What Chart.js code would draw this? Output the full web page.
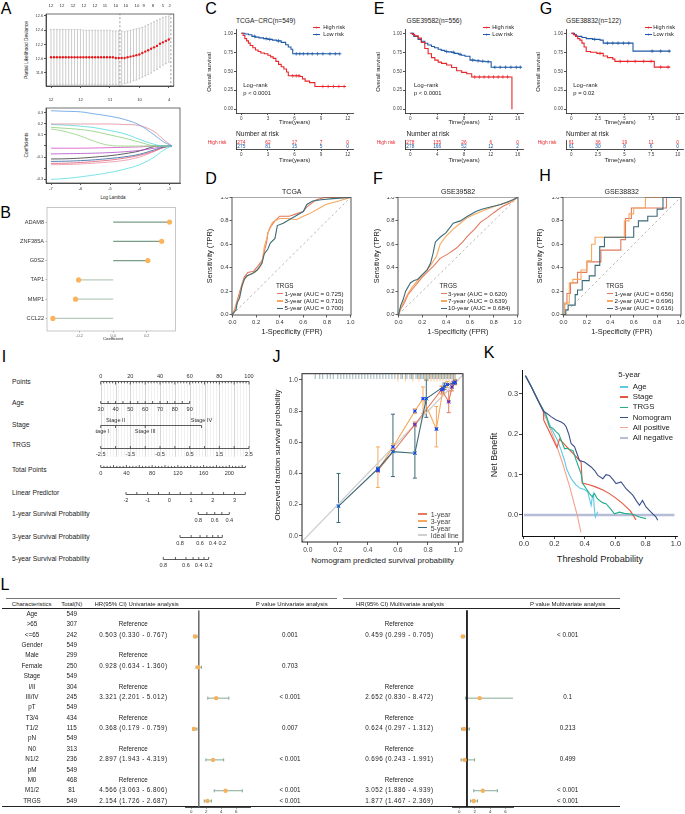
<!DOCTYPE html>
<html><head><meta charset="utf-8">
<script src="https://cdn.jsdelivr.net/npm/chart.js@4/dist/chart.umd.min.js"></script>
<style>
html,body{margin:0;padding:0;background:#fff}
#fig{position:relative;width:685px;height:814px;overflow:hidden;background:#fff;font-family:"Liberation Sans",Arial,Helvetica,sans-serif}
.t{position:absolute;white-space:nowrap;line-height:1;color:#222}
.ln{position:absolute}
canvas{position:absolute}
</style></head><body><div id="fig"></div><script>
// ---------------- data ----------------
// A: cross-validation curve
const cvLambda = [-7.0,-6.9,-6.8,-6.7,-6.6,-6.5,-6.4,-6.3,-6.2,-6.1,-6.0,-5.9,-5.8,-5.7,-5.6,-5.5,-5.4,-5.3,-5.2,-5.1,-5.0,-4.9,-4.8,-4.7,-4.6,-4.5,-4.4,-4.3,-4.2,-4.1,-4.0,-3.9,-3.8,-3.7,-3.6,-3.5,-3.4,-3.3,-3.2,-3.1,-3.0];
const cvDev = [12.02,12.02,12.02,12.02,12.02,12.02,12.02,12.02,12.02,12.02,12.02,12.02,12.02,12.02,12.02,12.02,12.02,12.02,12.02,12.02,12.02,12.02,12.01,12.01,12.01,12.01,12.02,12.03,12.04,12.05,12.06,12.08,12.10,12.12,12.14,12.16,12.18,12.21,12.23,12.25,12.27];
const cvHi = [12.41,12.41,12.41,12.41,12.41,12.41,12.41,12.41,12.41,12.41,12.41,12.40,12.40,12.40,12.40,12.40,12.40,12.40,12.40,12.40,12.40,12.39,12.39,12.39,12.39,12.38,12.39,12.40,12.41,12.42,12.43,12.44,12.46,12.48,12.50,12.52,12.54,12.56,12.58,12.59,12.60];
const cvLo = [11.64,11.64,11.64,11.64,11.64,11.64,11.64,11.64,11.64,11.64,11.64,11.64,11.64,11.64,11.64,11.64,11.64,11.64,11.64,11.64,11.64,11.64,11.64,11.64,11.64,11.65,11.66,11.67,11.69,11.70,11.72,11.74,11.76,11.78,11.80,11.83,11.85,11.88,11.91,11.93,11.95];
const cvTopLambda = [-7,-6.63,-6.25,-5.88,-5.51,-5.17,-4.8,-4.46,-4.08,-3.85,-3.54,-3.2,-2.97];
const cvTopN = [12,12,12,12,12,11,10,10,10,9,8,5,2];
const cvCut = [-4.66,-2.93];
// A: coefficient paths
const coefLambda = [-7,-6.5,-6,-5.5,-5,-4.5,-4,-3.5,-3.2,-2.9];
const coefPaths = [
  [0.32,0.315,0.31,0.29,0.27,0.24,0.19,0.10,0.04,0],
  [0.20,0.20,0.20,0.20,0.20,0.195,0.185,0.13,0.06,0],
  [0.195,0.19,0.18,0.165,0.14,0.11,0.06,0.015,0,0],
  [0.17,0.16,0.15,0.13,0.10,0.07,0.035,0,0,0],
  [0.155,0.13,0.09,0.04,0.005,0,0,0,0,0],
  [-0.02,-0.02,-0.02,-0.018,-0.015,-0.012,-0.008,0,0,0],
  [-0.072,-0.07,-0.068,-0.065,-0.06,-0.052,-0.04,-0.02,-0.005,0],
  [-0.118,-0.116,-0.11,-0.10,-0.088,-0.07,-0.045,-0.005,0,0],
  [-0.14,-0.138,-0.133,-0.125,-0.113,-0.098,-0.075,-0.035,-0.01,0],
  [-0.158,-0.156,-0.15,-0.14,-0.128,-0.11,-0.085,-0.045,-0.015,0],
  [-0.17,-0.168,-0.163,-0.155,-0.145,-0.13,-0.10,-0.05,-0.015,0],
  [-0.303,-0.295,-0.28,-0.262,-0.24,-0.21,-0.17,-0.10,-0.04,0]
];
const coefColors = ['#5b9be0','#e58a9c','#4fd9df','#86cf76','#8fd47f','#d54fc6','#b04cc8','#333333','#2a5f9e','#de5a6e','#ef8fa6','#58dde3'];
const coefTopLambda = [-7,-6,-5,-4,-3];
const coefTopN = [12,12,11,10,4];
// B
const genes = ['ADAM8','ZNF385A','G0S2','TAP1','MMP1','CCL22'];
const geneCoef = [0.335,0.288,0.206,-0.206,-0.224,-0.359];
// C: TCGA KM
const kmC_highT = [0,0.2,0.4,0.6,0.8,1.0,1.3,1.6,1.9,2.2,2.6,3.0,3.3,3.6,3.9,4.2,4.5,4.8,5.1,5.3,6.6,6.9,7.2,7.7,8.3,11.8];
const kmC_highS = [1,0.97,0.93,0.90,0.87,0.84,0.81,0.78,0.76,0.74,0.73,0.71,0.69,0.67,0.63,0.59,0.56,0.53,0.49,0.44,0.43,0.40,0.37,0.35,0.30,0.30];
const kmC_lowT = [0,0.4,0.8,1.2,1.6,2.0,2.5,3.0,3.5,4.0,4.5,5.0,5.3,5.6,5.8,11.1];
const kmC_lowS = [1,0.99,0.98,0.96,0.95,0.94,0.93,0.92,0.91,0.90,0.88,0.85,0.82,0.79,0.73,0.73];
const censC_highT = [5.8,6.2,6.5,9.2,9.8,10.4,11.0,11.6];
const censC_highS = [0.44,0.44,0.44,0.30,0.30,0.30,0.30,0.30];
const censC_lowT = [1.5,2.8,3.2,4.2,6.2,6.6,7.0,7.5,8.0,8.6,9.2,10.0,10.6,11.1];
const censC_lowS = [0.96,0.93,0.92,0.90,0.73,0.73,0.73,0.73,0.73,0.73,0.73,0.73,0.73,0.73];
const riskC_t = [0,3,6,9,12], riskC_high = [274,62,17,7,0], riskC_low = [275,81,15,5,0];
// E: GSE39582 KM
const kmE_highT = [0,0.3,0.65,1.15,1.65,2.15,2.65,3.15,3.65,4.15,4.65,5.4,6.15,6.9,7.65,8.4,9.15,15.15];
const kmE_highS = [1,0.985,0.966,0.936,0.88,0.80,0.73,0.68,0.647,0.62,0.604,0.583,0.55,0.506,0.485,0.468,0.425,0];
const kmE_lowT = [0,0.5,1.15,1.6,2.15,2.6,3.15,3.6,4.15,4.6,5.15,5.6,6.15,6.6,7.15,7.6,8.15,8.9,9.65,10.4,11.15,12.05,16.6];
const kmE_lowS = [1,0.96,0.92,0.895,0.868,0.845,0.826,0.81,0.79,0.775,0.76,0.755,0.749,0.735,0.723,0.71,0.698,0.647,0.638,0.632,0.626,0.553,0.553];
const censE_highT = [9.6,10.3,11.0,11.7,12.4,13.1,13.8,14.5];
const censE_highS = [0.425,0.425,0.425,0.425,0.425,0.425,0.425,0.425];
const censE_lowT = [5.4,6.4,7.4,9.3,10.1,10.8,11.6,12.6,13.4,14.2,15.0,15.8,16.4];
const censE_lowS = [0.76,0.749,0.723,0.647,0.638,0.632,0.626,0.553,0.553,0.553,0.553,0.553,0.553];
const riskE_t = [0,4,8,12,16], riskE_high = [278,135,26,6,0], riskE_low = [278,166,52,12,2];
// G: GSE38832 KM
const kmG_highT = [0,0.2,0.4,0.6,0.8,1.0,1.2,1.4,1.8,2.4,3.0,3.4,3.9,4.1,7.8,9.3];
const kmG_highS = [1,0.98,0.96,0.93,0.91,0.87,0.82,0.76,0.75,0.735,0.70,0.68,0.66,0.63,0.555,0.555];
const kmG_lowT = [0,0.3,0.5,1.0,1.4,2.0,2.7,3.0,5.8,9.3];
const kmG_lowS = [1,0.98,0.96,0.945,0.93,0.92,0.91,0.87,0.765,0.765];
const censG_highT = [2.7,4.6,5.3,6.0,6.8,7.5,8.4,9.1];
const censG_highS = [0.735,0.63,0.63,0.63,0.63,0.63,0.555,0.555];
const censG_lowT = [2.2,3.4,3.9,4.4,4.9,5.4,7.6,8.4,9.2];
const censG_lowS = [0.92,0.87,0.87,0.87,0.87,0.87,0.765,0.765,0.765];
const riskG_t = [0,2.5,5,7.5,10], riskG_high = [61,36,19,11,0], riskG_low = [61,30,8,6,0];
// D: TCGA ROC
const rocD1_f = [0,0.02,0.04,0.06,0.08,0.1,0.13,0.18,0.22,0.25,0.27,0.29,0.3,0.33,0.36,0.4,0.48,0.54,0.6,0.63,0.67,0.71,0.78,0.9,1];
const rocD1_t = [0,0.05,0.12,0.19,0.26,0.32,0.36,0.37,0.42,0.46,0.54,0.62,0.7,0.76,0.8,0.84,0.84,0.86,0.88,0.92,0.95,0.98,1,1,1];
const rocD3_f = [0,0.02,0.04,0.06,0.08,0.1,0.14,0.19,0.23,0.25,0.27,0.29,0.31,0.34,0.4,0.47,0.54,0.6,0.65,0.72,0.79,0.9,1];
const rocD3_t = [0,0.04,0.1,0.16,0.24,0.3,0.34,0.36,0.4,0.44,0.58,0.65,0.73,0.79,0.82,0.82,0.81,0.84,0.86,0.9,0.94,0.97,1];
const rocD5_f = [0,0.03,0.04,0.06,0.08,0.1,0.12,0.17,0.21,0.25,0.27,0.3,0.32,0.36,0.38,0.43,0.48,0.55,0.6,0.63,0.68,0.75,0.85,1];
const rocD5_t = [0,0.04,0.1,0.14,0.24,0.3,0.33,0.35,0.38,0.44,0.52,0.56,0.61,0.65,0.76,0.78,0.81,0.85,0.88,0.94,0.97,0.98,0.99,1];
// F: GSE39582 ROC
const rocF3_f = [0,0.02,0.05,0.08,0.12,0.16,0.2,0.25,0.3,0.35,0.42,0.49,0.54,0.58,0.64,0.69,0.75,0.8,0.87,0.93,0.97,1];
const rocF3_t = [0,0.05,0.1,0.17,0.22,0.27,0.32,0.37,0.42,0.48,0.52,0.57,0.62,0.67,0.73,0.79,0.83,0.87,0.92,0.95,0.98,1];
const rocF7_f = [0,0.02,0.05,0.08,0.12,0.17,0.22,0.27,0.32,0.35,0.4,0.46,0.52,0.58,0.65,0.72,0.77,0.85,0.92,0.96,1];
const rocF7_t = [0,0.06,0.12,0.18,0.24,0.3,0.36,0.42,0.5,0.6,0.67,0.73,0.78,0.83,0.86,0.89,0.91,0.94,0.96,0.97,1];
const rocF10_f = [0,0.01,0.02,0.04,0.06,0.1,0.13,0.16,0.2,0.24,0.27,0.29,0.31,0.35,0.4,0.46,0.52,0.58,0.65,0.7,0.78,0.86,0.91,0.96,1];
const rocF10_t = [0,0.04,0.08,0.13,0.2,0.27,0.29,0.3,0.34,0.38,0.44,0.52,0.62,0.66,0.7,0.78,0.8,0.84,0.88,0.9,0.92,0.94,0.96,0.98,1];
// H: GSE38832 ROC
const rocH1_f = [0,0.01,0.01,0.03,0.03,0.06,0.06,0.12,0.12,0.2,0.2,0.32,0.32,0.49,0.49,0.53,0.53,0.58,0.58,0.88,0.88,1];
const rocH1_t = [0,0,0.09,0.09,0.18,0.18,0.27,0.27,0.36,0.36,0.45,0.45,0.55,0.55,0.64,0.64,0.82,0.82,0.91,0.91,1,1];
const rocH2_f = [0,0.01,0.01,0.05,0.05,0.08,0.08,0.15,0.15,0.2,0.2,0.24,0.24,0.27,0.27,0.52,0.52,0.56,0.56,0.6,0.6,0.7,0.7,1];
const rocH2_t = [0,0,0.1,0.1,0.27,0.27,0.3,0.3,0.38,0.38,0.46,0.46,0.6,0.6,0.66,0.66,0.8,0.8,0.86,0.86,0.91,0.91,1,1];
const rocH3_f = [0,0.02,0.02,0.04,0.04,0.1,0.1,0.12,0.12,0.16,0.16,0.22,0.22,0.27,0.27,0.31,0.31,0.35,0.35,0.6,0.6,0.64,0.64,0.72,0.72,0.8,0.8,0.85,0.85,1];
const rocH3_t = [0,0,0.04,0.04,0.08,0.08,0.17,0.17,0.21,0.21,0.29,0.29,0.33,0.33,0.42,0.42,0.58,0.58,0.66,0.66,0.75,0.75,0.8,0.8,0.84,0.84,0.9,0.9,1,1];
// I: nomogram scales
const pointsLabels = [0,20,40,60,80,100];
const ageLabels = [30,40,50,60,70,80,90];
const stageNames = ['Stage I','Stage II','Stage III','Stage IV'];
const stagePts = [0,10,30,68];
const stageSide = ['below','above','below','above'];
const trgsLabels = [-2.5,-1.5,-0.5,0.5,1.5,2.5];
const totalLabels = [0,40,80,120,160,200];
const lpLabels = [-2,-1,0,1,2,3];
const survTicks1 = [0.8,0.7,0.6,0.5,0.4], survPts1 = [65.8,71.6,76.9,81.7,86.7];
const survTicks3 = [0.8,0.7,0.6,0.5,0.4,0.3,0.2], survPts3 = [53.5,61.0,67.0,71.6,75.5,79.1,82.0];
const survTicks5 = [0.8,0.7,0.6,0.5,0.4,0.3,0.2], survPts5 = [42.2,50.4,57.5,62.3,66.1,69.7,72.8];
// J: calibration
const cal1x = [0.467,0.713,0.89,0.938,0.96,0.98], cal1y = [0.42,0.714,0.937,0.86,0.955,0.985];
const cal1lo = [0.41,0.70,0.91,0.79,0.93,0.97], cal1hi = [0.43,0.73,0.96,0.93,0.98,1.0];
const cal3x = [0.467,0.567,0.713,0.767,0.856,0.9,0.93,0.97], cal3y = [0.42,0.57,0.8,0.88,0.685,0.94,0.97,0.98];
const cal3lo = [0.31,0.55,0.785,0.785,0.57,0.92,0.95,0.97], cal3hi = [0.57,0.59,0.815,0.955,0.83,0.96,0.99,0.99];
const cal5x = [0.205,0.467,0.567,0.713,0.789,0.91,0.98], cal5y = [0.19,0.43,0.54,0.53,0.88,0.96,0.985];
const cal5lo = [0.085,0.42,0.38,0.37,0.76,0.94,0.97], cal5hi = [0.40,0.44,0.78,0.72,1.0,0.98,1.0];
const rugDark = [0.05,0.08,0.1,0.13,0.15,0.17,0.2,0.22,0.24,0.26,0.28,0.3,0.32,0.34,0.36,0.38,0.4,0.42,0.44,0.46,0.48,0.5,0.52,0.54,0.56,0.58,0.6,0.62,0.63,0.65,0.66,0.68,0.69,0.7,0.72,0.73,0.74,0.75,0.76,0.77,0.78,0.79,0.8,0.81,0.82,0.83,0.84,0.85,0.86,0.87,0.88,0.89,0.9,0.91,0.92,0.93,0.94,0.95,0.96,0.97,0.98];
const rugOrange = [0.6,0.65,0.7,0.74,0.78,0.8,0.82,0.84,0.86,0.88,0.9,0.92,0.94,0.96,0.98];
// K: decision curves
const dcaPosT = [0.01,0.05,0.1,0.15,0.2,0.25,0.3,0.35,0.375];
const dcaPosNB = [0.345,0.316,0.278,0.235,0.187,0.133,0.071,0.0,-0.043];
const dcaNegT = [0,0.99], dcaNegNB = [0,0];
const dcaAgeT = [0.01,0.05,0.1,0.125,0.15,0.18,0.2,0.22,0.245,0.267,0.28,0.3,0.32,0.344,0.37,0.398,0.42,0.442,0.45,0.457,0.462,0.47,0.475,0.486];
const dcaAgeNB = [0.345,0.316,0.278,0.262,0.24,0.215,0.2,0.185,0.16,0.135,0.115,0.098,0.085,0.074,0.066,0.063,0.057,0.024,0.045,0.053,0.02,-0.005,0.0,0.008];
const dcaStageT = [0.01,0.05,0.1,0.128,0.13,0.217,0.234,0.376,0.383,0.43,0.475,0.52,0.562,0.6,0.65,0.7,0.737];
const dcaStageNB = [0.345,0.316,0.278,0.258,0.235,0.167,0.188,0.131,0.079,0.075,0.069,0.062,0.053,0.043,0.028,0.01,-0.012];
const dcaTrgsT = [0.01,0.05,0.1,0.147,0.168,0.19,0.212,0.23,0.245,0.267,0.28,0.3,0.322,0.344,0.376,0.387,0.41,0.431,0.45,0.464,0.48,0.497,0.52,0.54,0.57,0.595,0.628,0.66,0.716,0.76,0.803];
const dcaTrgsNB = [0.345,0.316,0.278,0.247,0.218,0.215,0.206,0.2,0.185,0.164,0.165,0.162,0.16,0.135,0.102,0.078,0.065,0.053,0.045,0.053,0.042,0.036,0.03,0.028,0.015,0.003,0.007,0.004,0.002,-0.005,-0.009];
const dcaNomoT = [0.01,0.05,0.1,0.13,0.15,0.18,0.212,0.245,0.265,0.278,0.295,0.31,0.333,0.365,0.398,0.42,0.442,0.465,0.486,0.519,0.54,0.562,0.585,0.606,0.639,0.672,0.716,0.74,0.76,0.78,0.803,0.836,0.869,0.88];
const dcaNomoNB = [0.345,0.316,0.278,0.256,0.252,0.243,0.235,0.23,0.225,0.218,0.2,0.177,0.169,0.135,0.131,0.125,0.119,0.11,0.098,0.09,0.1,0.098,0.088,0.078,0.082,0.065,0.049,0.035,0.024,0.036,0.02,0.007,-0.005,-0.013];
// L: forest table
const tabChar = ['Age','>65','<=65','Gender','Male','Female','Stage','I/II','III/IV','pT','T3/4','T1/2','pN','N0','N1/2','pM','M0','M1/2','TRGS'];
const tabTotal = [549,307,242,549,299,250,549,304,245,549,434,115,549,313,236,549,468,81,549];
const uniText = ['','Reference','0.503 (0.330 - 0.767)','','Reference','0.928 (0.634 - 1.360)','','Reference','3.321 (2.201 - 5.012)','','Reference','0.368 (0.179 - 0.759)','','Reference','2.897 (1.943 - 4.319)','','Reference','4.566 (3.063 - 6.806)','2.154 (1.726 - 2.687)'];
const uniP = ['','','0.001','','','0.703','','','< 0.001','','','0.007','','','< 0.001','','','< 0.001','< 0.001'];
const multiText = ['','Reference','0.459 (0.299 - 0.705)','','','','','Reference','2.652 (0.830 - 8.472)','','Reference','0.624 (0.297 - 1.312)','','Reference','0.696 (0.243 - 1.991)','','Reference','3.052 (1.886 - 4.939)','1.877 (1.467 - 2.369)'];
const multiP = ['','','< 0.001','','','','','','0.1','','','0.213','','','0.499','','','< 0.001','< 0.001'];
const uniRow = [2,5,8,11,14,17,18];
const uniHR = [0.503,0.928,3.321,0.368,2.897,4.566,2.154];
const uniLo = [0.330,0.634,2.201,0.179,1.943,3.063,1.726];
const uniHi = [0.767,1.360,5.012,0.759,4.319,6.806,2.687];
const multiRow = [2,8,11,14,17,18];
const multiHR = [0.459,2.652,0.624,0.696,3.052,1.877];
const multiLo = [0.299,0.830,0.297,0.243,1.886,1.467];
const multiHi = [0.705,8.472,1.312,1.991,4.939,2.369];

// ---------------- helpers ----------------
const FONT = '"Liberation Sans", Arial, Helvetica, sans-serif';
Chart.defaults.font.family = FONT;
Chart.defaults.color = '#333';
Chart.defaults.elements.point.radius = 0;
Chart.defaults.elements.point.hoverRadius = 0;
Chart.defaults.elements.line.tension = 0;
Chart.defaults.plugins.legend.display = false;
Chart.defaults.plugins.tooltip.enabled = false;

const fig = document.getElementById('fig');
const RED = '#e8262b', BLUE = '#1f5aa6';
const C1 = '#e27a5f', C2 = '#f6a95e', C3 = '#3d6a77';

function txt(s, x, y, o) {
  o = o || {};
  const d = document.createElement('div');
  d.className = 't';
  d.textContent = s;
  d.style.left = x + 'px';
  d.style.top = y + 'px';
  d.style.fontSize = (o.size || 6) + 'px';
  if (o.color) d.style.color = o.color;
  if (o.ls) d.style.letterSpacing = o.ls + 'px';
  const ax = o.align === 'left' ? '0' : o.align === 'right' ? '-100%' : '-50%';
  d.style.transform = 'translate(' + ax + ',-50%)' + (o.rot ? ' rotate(' + o.rot + 'deg)' : '');
  fig.appendChild(d);
}
function hseg(x1, x2, y, color, w) {
  const d = document.createElement('div');
  d.className = 'ln';
  d.style.left = x1 + 'px'; d.style.width = (x2 - x1) + 'px';
  d.style.top = (y - w / 2) + 'px'; d.style.height = w + 'px';
  d.style.background = color;
  fig.appendChild(d);
}
function xy(xs, ys) { return xs.map((x, i) => ({ x: x, y: ys[i] })); }
function lineDS(xs, ys, color, w, extra) {
  return Object.assign({ data: xy(xs, ys), showLine: true, borderColor: color, backgroundColor: color, borderWidth: w, pointRadius: 0, fill: false }, extra || {});
}
function ptsDS(xs, ys, color, r, style, extra) {
  return Object.assign({ data: xy(xs, ys), showLine: false, pointRadius: r, pointStyle: style || 'circle', backgroundColor: color, borderColor: color, borderWidth: 0.8 }, extra || {});
}
function ax(min, max, ticks, o) {
  o = o || {};
  return {
    type: 'linear', min: min, max: max, reverse: !!o.reverse, display: true,
    afterBuildTicks: s => { s.ticks = ticks.map(v => ({ value: v })); },
    grid: { display: o.tl !== 0, drawOnChartArea: false, drawTicks: true, tickLength: o.tl === undefined ? 3 : o.tl, color: o.tc || '#333', lineWidth: o.tw || 0.8 },
    border: { display: o.border !== false, color: o.bc || '#333', width: o.bw || 0.8 },
    ticks: { display: o.labels !== false, font: { size: o.fs || 6 }, color: o.color || '#333', padding: o.pad === undefined ? 1 : o.pad, autoSkip: false, maxRotation: 0, minRotation: 0, callback: o.fmt || (v => String(v)) }
  };
}
function mk(area, pad, cfg) {
  const L = Math.round(area.l - pad.l), T = Math.round(area.t - pad.t);
  const W = Math.round(area.r + pad.r) - L, H = Math.round(area.b + pad.b) - T;
  const cv = document.createElement('canvas');
  cv.width = W; cv.height = H;
  cv.style.left = L + 'px'; cv.style.top = T + 'px';
  cv.style.width = W + 'px'; cv.style.height = H + 'px';
  fig.appendChild(cv);
  const o = cfg.options = cfg.options || {};
  o.responsive = false; o.maintainAspectRatio = false; o.animation = false; o.devicePixelRatio = 1; o.events = [];
  const sx = o.scales && o.scales.x, sy = o.scales && o.scales.y;
  const xOn = !!sx && sx.display !== false, yOn = !!sy && sy.display !== false;
  const pl = Math.round(area.l) - L, pt = Math.round(area.t) - T;
  const pr = L + W - Math.round(area.r), pb = T + H - Math.round(area.b);
  o.layout = { padding: { left: yOn ? 0 : pl, top: pt, right: pr, bottom: xOn ? 0 : pb } };
  if (xOn) sx.afterFit = s => { s.height = pb; s.paddingLeft = 0; s.paddingRight = 0; };
  if (yOn) sy.afterFit = s => { s.width = pl; s.paddingTop = 0; s.paddingBottom = 0; };
  return new Chart(cv, cfg);
}

// ---------------- plugins ----------------
const framePlugin = {
  id: 'frame',
  afterDraw(ch, a, o) {
    const A = ch.chartArea, c = ch.ctx;
    c.save(); c.strokeStyle = o.color || '#333'; c.lineWidth = o.width || 1;
    c.strokeRect(A.left, A.top, A.right - A.left, A.bottom - A.top);
    c.restore();
  }
};
const errPlugin = {
  id: 'err',
  beforeDatasetsDraw(ch) {
    const c = ch.ctx, A = ch.chartArea;
    c.save(); c.beginPath(); c.rect(A.left, A.top, A.right - A.left, A.bottom - A.top); c.clip();
    ch.data.datasets.forEach((ds, i) => {
      if (!ds.errLo) return;
      const m = ch.getDatasetMeta(i), X = ch.scales[m.xAxisID], Y = ch.scales[m.yAxisID];
      c.strokeStyle = ds.errColor; c.lineWidth = ds.errWidth || 0.8;
      const cap = ds.errCap || 1.5;
      ds.data.forEach((d, k) => {
        const lo = ds.errLo[k], hi = ds.errHi[k];
        c.beginPath();
        if (ds.errDir === 'h') {
          const y = Y.getPixelForValue(d.y), x1 = X.getPixelForValue(lo), x2 = X.getPixelForValue(hi);
          c.moveTo(x1, y); c.lineTo(x2, y);
          c.moveTo(x1, y - cap); c.lineTo(x1, y + cap); c.moveTo(x2, y - cap); c.lineTo(x2, y + cap);
        } else {
          const x = X.getPixelForValue(d.x), y1 = Y.getPixelForValue(lo), y2 = Y.getPixelForValue(hi);
          c.moveTo(x, y1); c.lineTo(x, y2);
          c.moveTo(x - cap, y1); c.lineTo(x + cap, y1); c.moveTo(x - cap, y2); c.lineTo(x + cap, y2);
        }
        c.stroke();
      });
    });
    c.restore();
  }
};
const topLabPlugin = {
  id: 'toplab',
  afterDraw(ch, a, o) {
    const c = ch.ctx, X = ch.scales.x, y = ch.chartArea.top - o.dy;
    c.save(); c.fillStyle = '#333'; c.font = o.size + 'px ' + FONT; c.textAlign = 'center'; c.textBaseline = 'middle';
    o.vals.forEach((v, i) => c.fillText(String(o.labels[i]), X.getPixelForValue(v), y));
    c.restore();
  }
};
const riskPlugin = {
  id: 'risk',
  afterDraw(ch, a, o) {
    const c = ch.ctx, X = ch.scales.x, Y = ch.scales.y;
    c.save(); c.font = o.size + 'px ' + FONT; c.textAlign = 'center'; c.textBaseline = 'middle';
    o.rows.forEach((row, r) => {
      c.fillStyle = o.colors[r];
      row.forEach((n, i) => c.fillText(String(n), X.getPixelForValue(o.times[i]), Y.getPixelForValue(r)));
    });
    c.restore();
  }
};
const nomoPlugin = {
  id: 'nomo',
  afterDraw(ch, a, o) {
    const c = ch.ctx, X = ch.scales.x, Y = ch.scales.y;
    c.save();
    // vertical reference grid
    const gy1 = Y.getPixelForValue(0), gy2 = Y.getPixelForValue(o.gridTo);
    for (let p = 0; p <= 100; p += 2) {
      c.strokeStyle = p % 10 === 0 ? '#c4c4c4' : '#ebebeb'; c.lineWidth = 0.7;
      const x = Math.round(X.getPixelForValue(p)) + 0.5;
      c.beginPath(); c.moveTo(x, gy1); c.lineTo(x, gy2); c.stroke();
    }
    c.strokeStyle = '#333'; c.fillStyle = '#333'; c.lineWidth = 0.8;
    c.font = o.size + 'px ' + FONT; c.textAlign = 'center'; c.textBaseline = 'middle';
    o.rows.forEach(r => {
      const y = Math.round(Y.getPixelForValue(r.row)) + 0.5;
      const ps = r.ticks.map(t => t.p);
      c.beginPath(); c.moveTo(X.getPixelForValue(Math.min.apply(null, ps)), y); c.lineTo(X.getPixelForValue(Math.max.apply(null, ps)), y); c.stroke();
      r.ticks.forEach(t => {
        const x = X.getPixelForValue(t.p);
        c.beginPath(); c.moveTo(x, y); c.lineTo(x, y + r.dir * t.len); c.stroke();
      });
      r.labels.forEach(l => {
        c.fillText(l.t, X.getPixelForValue(l.p), y + (l.side === 'above' ? -5 : 6));
      });
    });
    c.restore();
  }
};

// ---------------- panel letters ----------------
[['A',6,9],['B',5.5,212.5],['C',211,9],['E',379,9],['G',546,9],['D',211,179],['F',378,179],['H',545,176],['I',4,357],['J',276.5,357],['K',489,353],['L',5,585]]
  .forEach(p => txt(p[0], p[1], p[2], { size: 16, color: '#000' }));

// ---------------- A ----------------
mk({ l: 46, t: 14, r: 174, b: 86 }, { l: 14, t: 10, r: 1, b: 3 }, {
  type: 'scatter',
  data: { datasets: [
    ptsDS(cvLambda, cvDev, '#e8191c', 1.2, 'circle', { borderWidth: 0, errLo: cvLo, errHi: cvHi, errColor: '#a9a9a9', errWidth: 0.6, errCap: 1 }),
    lineDS([cvCut[0], cvCut[0]], [11.6, 12.65], '#555', 0.6, { borderDash: [2, 2] }),
    lineDS([cvCut[1], cvCut[1]], [11.6, 12.65], '#555', 0.6, { borderDash: [2, 2] })
  ] },
  options: {
    scales: {
      x: ax(-7.17, -2.83, [-7, -6, -5, -4, -3], { labels: false, tl: 2 }),
      y: ax(11.617, 12.628, [11.8, 12.0, 12.2, 12.4, 12.6], { fs: 3.8, tl: 2, fmt: v => v.toFixed(1) })
    },
    plugins: { frame: { color: '#333', width: 0.7 }, toplab: { vals: cvTopLambda, labels: cvTopN, dy: 8, size: 4.3 } }
  },
  plugins: [errPlugin, framePlugin, topLabPlugin]
});
mk({ l: 46, t: 108, r: 180, b: 183 }, { l: 14, t: 10, r: 1, b: 7 }, {
  type: 'scatter',
  data: { datasets: coefPaths.map((p, i) => lineDS(coefLambda, p, coefColors[i], 0.8, { tension: 0.4 })) },
  options: {
    scales: {
      x: ax(-7.17, -2.63, [-7, -6, -5, -4, -3], { fs: 4, tl: 2 }),
      y: ax(-0.336, 0.345, [-0.3, -0.2, -0.1, 0, 0.1, 0.2, 0.3], { fs: 3.8, tl: 2, fmt: v => (Math.abs(v) < 1e-9 || Math.abs(v + 0.2) < 1e-9) ? '' : v.toFixed(1) })
    },
    plugins: { frame: { color: '#333', width: 0.7 }, toplab: { vals: coefTopLambda, labels: coefTopN, dy: 8, size: 4.3 } }
  },
  plugins: [framePlugin, topLabPlugin]
});
txt('Partial Likelihood Deviance', 27, 50, { size: 4.8, rot: -90 });
txt('Coefficients', 27, 145, { size: 4.8, rot: -90 });
txt('Log Lambda', 113, 198, { size: 4.5 });

// ---------------- B ----------------
mk({ l: 47, t: 205, r: 176, b: 331 }, { l: 40, t: 0, r: 2, b: 6 }, {
  type: 'scatter',
  data: { datasets: [ptsDS(geneCoef, [1, 2, 3, 4, 5, 6], '#fbb45c', 2.6, 'circle', { borderWidth: 0 })]
    .concat(genes.map((g, i) => lineDS([0, geneCoef[i]], [i + 1, i + 1], geneCoef[i] > 0 ? '#7a9e87' : '#b7ccbe', 1.2))) },
  options: {
    scales: {
      x: ax(-0.394, 0.37, [-0.2, 0, 0.2], { fs: 3.8, tl: 1.5, color: '#666', tc: '#999', border: false, fmt: v => v.toFixed(1) }),
      y: ax(0.25, 6.65, [1, 2, 3, 4, 5, 6], { reverse: true, fs: 5.6, tl: 1.5, tc: '#999', border: false, pad: 1.5, fmt: v => genes[v - 1] })
    },
    plugins: { frame: { color: '#b0b0b0', width: 0.7 } }
  },
  plugins: [framePlugin]
});
txt('Coefficient', 113, 338.7, { size: 4.3 });

// ---------------- C / E / G ----------------
function kmPanel(p) {
  mk(p.area, { l: 20, t: 0, r: 4, b: 10 }, {
    type: 'scatter',
    data: { datasets: [
      ptsDS(p.chT, p.chS, RED, 1.8, 'cross', { borderWidth: 0.7 }),
      ptsDS(p.clT, p.clS, BLUE, 1.8, 'cross', { borderWidth: 0.7 }),
      lineDS(p.hT, p.hS, RED, 1.1, { stepped: 'before' }),
      lineDS(p.lT, p.lS, BLUE, 1.1, { stepped: 'before' })
    ] },
    options: { scales: {
      x: ax(p.xmin, p.xmax, p.xt, { fs: 4.6, tl: 2, color: '#444', bc: '#222', tc: '#222' }),
      y: ax(-0.05, 1.05, [0, 0.25, 0.5, 0.75, 1], { fs: 4.6, tl: 2, color: '#444', bc: '#222', tc: '#222', fmt: v => v.toFixed(2) })
    } }
  });
  mk({ l: p.area.l, t: 139.5, r: p.area.r, b: 149.4 }, { l: 34, t: 0, r: 4, b: 8 }, {
    type: 'scatter',
    data: { datasets: [] },
    options: {
      scales: {
        x: ax(p.xmin, p.xmax, p.xt, { fs: 4.6, tl: 2, color: '#444', bc: '#222', tc: '#222' }),
        y: { type: 'category', labels: ['High risk', 'Low risk'], offset: true,
             grid: { display: false }, border: { display: true, color: '#222', width: 0.8 },
             ticks: { font: { size: 4.8 }, padding: 1.5, color: c => c.index === 0 ? RED : BLUE } }
      },
      plugins: { risk: { times: p.rt, rows: [p.rh, p.rl], colors: [RED, BLUE], size: 4.8 } }
    },
    plugins: [riskPlugin]
  });
}
kmPanel({ area: { l: 235.6, t: 27.1, r: 353.4, b: 112.9 }, xmin: -0.6, xmax: 12.6, xt: [0, 3, 6, 9, 12],
  hT: kmC_highT, hS: kmC_highS, lT: kmC_lowT, lS: kmC_lowS, chT: censC_highT, chS: censC_highS, clT: censC_lowT, clS: censC_lowS,
  rt: riskC_t, rh: riskC_high, rl: riskC_low });
kmPanel({ area: { l: 405.4, t: 27.1, r: 522.6, b: 112.9 }, xmin: -0.8, xmax: 16.8, xt: [0, 4, 8, 12, 16],
  hT: kmE_highT, hS: kmE_highS, lT: kmE_lowT, lS: kmE_lowS, chT: censE_highT, chS: censE_highS, clT: censE_lowT, clS: censE_lowS,
  rt: riskE_t, rh: riskE_high, rl: riskE_low });
kmPanel({ area: { l: 566.4, t: 27.1, r: 682.6, b: 112.9 }, xmin: -0.5, xmax: 10.5, xt: [0, 2.5, 5, 7.5, 10],
  hT: kmG_highT, hS: kmG_highS, lT: kmG_lowT, lS: kmG_lowS, chT: censG_highT, chS: censG_highS, clT: censG_lowT, clS: censG_lowS,
  rt: riskG_t, rh: riskG_high, rl: riskG_low });
function kmText(title, tl, ycx, xc, lgLine, lgText, lrLeft, pv) {
  txt(title, tl, 21, { size: 6.6, align: 'left' });
  hseg(lgLine, lgLine + 7, 27.7, RED, 1); txt('+', lgLine + 3.5, 27.5, { size: 5.5, color: RED });
  hseg(lgLine, lgLine + 7, 34.7, BLUE, 1); txt('+', lgLine + 3.5, 34.5, { size: 5.5, color: BLUE });
  txt('High risk', lgText, 27.7, { size: 5.6, align: 'left' });
  txt('Low risk', lgText, 34.7, { size: 5.6, align: 'left' });
  txt('Log\u2212rank', lrLeft, 86, { size: 5.8, align: 'left' });
  txt(pv, lrLeft, 94, { size: 5.8, align: 'left' });
  txt('Overall survival', ycx, 72, { size: 5.8, rot: -90 });
  txt('Time(years)', xc, 123, { size: 5.9 });
  txt('Number at risk', tl, 134, { size: 6.6, align: 'left' });
  txt('Time(years)', xc, 161, { size: 5.9 });
}
kmText('TCGA\u2212CRC(n=549)', 236, 210, 294.7, 313.3, 323.3, 243.3, 'p < 0.0001');
kmText('GSE39582(n=556)', 406.5, 379.3, 464, 483.3, 492.3, 414, 'p < 0.0001');
kmText('GSE38832(n=122)', 566, 539, 620, 645, 653.3, 573.3, 'p = 0.02');

// ---------------- D / F / H ----------------
function rocPanel(area, curves) {
  mk(area, { l: 16, t: 0, r: 6, b: 12 }, {
    type: 'scatter',
    data: { datasets: curves.map(cv => lineDS(cv[0], cv[1], cv[2], 1.1)).reverse()
      .concat([lineDS([0, 1], [0, 1], '#9a9a9a', 0.7, { borderDash: [2.5, 2.5] })]) },
    options: {
      scales: {
        x: ax(-0.004, 1.004, [0, 0.2, 0.4, 0.6, 0.8, 1], { fs: 5.8, tl: 2.5, border: false, color: '#333', fmt: v => v.toFixed(1) }),
        y: ax(-0.004, 1.004, [0, 0.2, 0.4, 0.6, 0.8, 1], { fs: 5.8, tl: 2.5, border: false, color: '#333', fmt: v => v.toFixed(1) })
      },
      plugins: { frame: { color: '#555', width: 1 } }
    },
    plugins: [framePlugin]
  });
}
rocPanel({ l: 232.3, t: 197.2, r: 351.3, b: 314.5 }, [[rocD1_f, rocD1_t, C1], [rocD3_f, rocD3_t, C2], [rocD5_f, rocD5_t, C3]]);
rocPanel({ l: 398.3, t: 197.2, r: 517.7, b: 314.5 }, [[rocF3_f, rocF3_t, C1], [rocF7_f, rocF7_t, C2], [rocF10_f, rocF10_t, C3]]);
rocPanel({ l: 563, t: 197.2, r: 680.5, b: 314.5 }, [[rocH1_f, rocH1_t, C1], [rocH2_f, rocH2_t, C2], [rocH3_f, rocH3_t, C3]]);
function rocText(title, cx, ycx, lgl, items) {
  txt(title, cx, 190.7, { size: 7 });
  txt('Sensitivity (TPR)', ycx, 256, { size: 7.3, rot: -90 });
  txt('1-Specificity (FPR)', cx, 331.7, { size: 7.3 });
  txt('TRGS', lgl, 286, { size: 6.3, align: 'left' });
  [C1, C2, C3].forEach((col, i) => {
    const y = 293.7 + i * 7.3;
    hseg(lgl + 1, lgl + 7, y, col, 1.1);
    txt(items[i], lgl + 8.5, y, { size: 6.2, align: 'left' });
  });
}
rocText('TCGA', 291.8, 210, 276, ['1-year (AUC = 0.725)', '3-year (AUC = 0.710)', '5-year (AUC = 0.700)']);
rocText('GSE39582', 458, 376.7, 439.5, ['3-year (AUC = 0.620)', '7-year (AUC = 0.639)', '10-year (AUC = 0.684)']);
rocText('GSE38832', 621.7, 540, 606, ['1-year (AUC = 0.656)', '2-year (AUC = 0.696)', '3-year (AUC = 0.616)']);

// ---------------- I: nomogram ----------------
function rng(a, b, st) { const r = []; for (let v = a; v <= b + 1e-9; v += st) r.push(+v.toFixed(4)); return r; }
const nomoRows = [
  { row: 0, dir: 1, ticks: rng(0, 100, 2).map(v => ({ p: v, len: v % 10 === 0 ? 3 : 1.8 })), labels: pointsLabels.map(v => ({ p: v, t: String(v), side: 'above' })) },
  { row: 1.01, dir: -1, ticks: rng(30, 90, 5).map(v => ({ p: v - 30, len: 2.5 })), labels: ageLabels.map(v => ({ p: v - 30, t: String(v), side: 'below' })) },
  { row: 1.99, dir: 1, ticks: stagePts.map(p => ({ p: p, len: 2.5 })), labels: stageNames.map((s, i) => ({ p: stagePts[i], t: s, side: stageSide[i] })) },
  { row: 3.04, dir: -1, ticks: rng(-2.5, 2.5, 0.5).map(v => ({ p: (v + 2.5) * 20, len: 2.5 })), labels: trgsLabels.map(v => ({ p: (v + 2.5) * 20, t: String(v), side: 'below' })) },
  { row: 3.86, dir: -1, ticks: rng(0, 225, 5).map(v => ({ p: v * 0.4336, len: v % 20 === 0 ? 2.5 : 1.6 })), labels: totalLabels.map(v => ({ p: v * 0.4336, t: String(v), side: 'below' })) },
  { row: 5.1, dir: -1, ticks: rng(-2, 3.5, 0.5).map(v => ({ p: 46.3 + 14.63 * v, len: 2.5 })), labels: lpLabels.map(v => ({ p: 46.3 + 14.63 * v, t: String(v), side: 'below' })) },
  { row: 5.98, dir: -1, ticks: survPts1.map(p => ({ p: p, len: 2.5 })), labels: survTicks1.map((v, i) => ({ p: survPts1[i], t: i % 2 === 0 ? v.toFixed(1) : '', side: 'below' })) },
  { row: 7.0, dir: -1, ticks: survPts3.map(p => ({ p: p, len: 2.5 })), labels: survTicks3.map((v, i) => ({ p: survPts3[i], t: i % 2 === 0 ? v.toFixed(1) : '', side: 'below' })) },
  { row: 8.0, dir: -1, ticks: survPts5.map(p => ({ p: p, len: 2.5 })), labels: survTicks5.map((v, i) => ({ p: survPts5[i], t: i % 2 === 0 ? v.toFixed(1) : '', side: 'below' })) }
];
mk({ l: 95, t: 368, r: 262, b: 572 }, { l: 0, t: 0, r: 0, b: 0 }, {
  type: 'scatter',
  data: { datasets: [] },
  options: {
    scales: { x: { type: 'linear', display: false, min: -3.843, max: 108.77 }, y: { type: 'linear', display: false, min: -0.57, max: 8.58, reverse: true } },
    plugins: { nomo: { rows: nomoRows, gridTo: 3.41, size: 5.6 } }
  },
  plugins: [nomoPlugin]
});
[['Points', 381.7], ['Age', 402.7], ['Stage', 425.3], ['TRGS', 445], ['Total Points', 470], ['Linear Predictor', 492.7],
 ['1-year Survival Probability', 514.3], ['3-year Survival Probability', 536.7], ['5-year Survival Probability', 559]]
  .forEach(r => txt(r[0], 12, r[1], { size: 6.7, align: 'left' }));

// ---------------- J: calibration ----------------
mk({ l: 302, t: 369.3, r: 462.7, b: 541.7 }, { l: 20, t: 0, r: 5, b: 14 }, {
  type: 'scatter',
  data: { datasets: [
    ptsDS(cal5x, cal5y, '#1c3cf2', 2.4, 'crossRot', { borderWidth: 1 }),
    ptsDS(cal3x, cal3y, '#1c3cf2', 2.4, 'crossRot', { borderWidth: 1 }),
    ptsDS(cal1x, cal1y, '#1c3cf2', 2.4, 'crossRot', { borderWidth: 1 }),
    lineDS(cal5x, cal5y, C3, 1.1, { pointRadius: 2, pointStyle: 'rect', pointBackgroundColor: '#1aa391', pointBorderWidth: 0, errLo: cal5lo, errHi: cal5hi, errColor: C3, errWidth: 1, errCap: 2 }),
    lineDS(cal3x, cal3y, C2, 1.1, { pointRadius: 2, pointStyle: 'rect', pointBackgroundColor: '#2d55e8', pointBorderWidth: 0, errLo: cal3lo, errHi: cal3hi, errColor: C2, errWidth: 1, errCap: 2 }),
    lineDS(cal1x, cal1y, C1, 1.1, { pointRadius: 1.8, pointStyle: 'circle', pointBackgroundColor: '#e0463c', pointBorderWidth: 0, errLo: cal1lo, errHi: cal1hi, errColor: C1, errWidth: 1, errCap: 2 }),
    lineDS([-0.05, 1.05], [-0.05, 1.05], '#cfcfcf', 1.3),
    ptsDS(rugOrange, rugOrange.map(() => 1.015), 'rgba(246,169,94,0.85)', 4, 'line', { rotation: 90, borderWidth: 0.7 }),
    ptsDS(rugDark, rugDark.map(() => 1.025), 'rgba(61,106,119,0.75)', 3, 'line', { rotation: 90, borderWidth: 0.7 })
  ] },
  options: {
    scales: {
      x: ax(-0.038, 1.033, [0, 0.2, 0.4, 0.6, 0.8, 1], { fs: 6.6, tl: 3, border: false, color: '#444', fmt: v => v.toFixed(1) }),
      y: ax(-0.04, 1.04, [0, 0.2, 0.4, 0.6, 0.8, 1], { fs: 6.6, tl: 3, border: false, color: '#444', fmt: v => v.toFixed(1) })
    },
    plugins: { frame: { color: '#222', width: 1 } }
  },
  plugins: [errPlugin, framePlugin]
});
txt('Nomogram predicted survival probability', 382.7, 561, { size: 8 });
txt('Observed fraction survival probability', 278.3, 455, { size: 8, rot: -90 });
[['1-year', C1], ['3-year', C2], ['5-year', C3], ['Ideal line', '#cfcfcf']].forEach((it, i) => {
  const y = [514, 521, 527.8, 535][i];
  hseg(418.3, 427, y, it[1], 1.3);
  txt(it[0], 430.7, y, { size: 7, align: 'left', color: '#444' });
});

// ---------------- K: decision curve ----------------
const KC = { age: '#5ec8e5', stage: '#e8553e', trgs: '#22ad8b', nomo: '#3b4f8e', pos: '#f5a28c', neg: '#b6bdd6' };
mk({ l: 522.3, t: 370, r: 677.3, b: 535.7 }, { l: 22, t: 0, r: 6, b: 14 }, {
  type: 'scatter',
  data: { datasets: [
    lineDS(dcaNomoT, dcaNomoNB, KC.nomo, 1.1),
    lineDS(dcaTrgsT, dcaTrgsNB, KC.trgs, 1.1),
    lineDS(dcaStageT, dcaStageNB, KC.stage, 1.1),
    lineDS(dcaAgeT, dcaAgeNB, KC.age, 1.1),
    lineDS(dcaPosT, dcaPosNB, KC.pos, 1.1),
    lineDS(dcaNegT, dcaNegNB, KC.neg, 2.4)
  ] },
  options: { scales: {
    x: ax(-0.013, 1.007, [0, 0.2, 0.4, 0.6, 0.8, 1], { fs: 7.4, tl: 3, bc: '#111', tc: '#111', bw: 1, color: '#333', fmt: v => v.toFixed(1) }),
    y: ax(-0.052, 0.359, [0, 0.1, 0.2, 0.3], { fs: 7.4, tl: 3, bc: '#111', tc: '#111', bw: 1, color: '#333', fmt: v => v.toFixed(1) })
  } }
});
txt('Threshold Probability', 600, 560, { size: 9.2 });
txt('Net Benefit', 494, 455, { size: 9, rot: -90 });
txt('5-year', 618.3, 375, { size: 7.8, align: 'left' });
[['Age', KC.age], ['Stage', KC.stage], ['TRGS', KC.trgs], ['Nomogram', KC.nomo], ['All positive', KC.pos], ['All negative', KC.neg]].forEach((it, i) => {
  const y = 386.9 + i * 10.2;
  hseg(620, 628.3, y, it[1], 1.3);
  txt(it[0], 632.7, y, { size: 7.8, align: 'left' });
});

// ---------------- L: forest table ----------------
hseg(6, 336.7, 598.7, '#777', 1.2);
hseg(343.3, 620, 598.7, '#777', 1.2);
hseg(2, 620, 608.3, '#222', 0.9);
hseg(2, 620, 806.7, '#222', 0.9);
txt('Characteristics', 31.7, 604, { size: 6 });
txt('Total(N)', 71.7, 604, { size: 6 });
txt('HR(95% CI) Univariate analysis', 136.7, 604, { size: 6 });
txt('P value Univariate analysis', 291.7, 604, { size: 6 });
txt('HR(95% CI) Multivariate analysis', 400, 604, { size: 6 });
txt('P value Multivariate analysis', 567.7, 604, { size: 6 });
tabChar.forEach((s, i) => {
  const y = 614 + 10.37 * i;
  txt(s, 32, y, { size: 6.3 });
  txt(String(tabTotal[i]), 71.7, y, { size: 6.3 });
  if (uniText[i]) txt(uniText[i], 133.3, y, { size: 6.3, ls: uniText[i] === 'Reference' ? 0 : 0.45 });
  if (uniP[i]) txt(uniP[i], 290, y, { size: 6.3 });
  if (multiText[i]) txt(multiText[i], 399.3, y, { size: 6.3, ls: multiText[i] === 'Reference' ? 0 : 0.45 });
  if (multiP[i]) txt(multiP[i], 567.7, y, { size: 6.3 });
});
function forest(area, xmin, xmax, rows, hr, lo, hi, refColor, refW) {
  mk(area, { l: 0, t: 0, r: 4, b: 8 }, {
    type: 'scatter',
    data: { datasets: [
      ptsDS(hr, rows, '#f8b15a', 2.2, 'circle', { borderWidth: 0, errDir: 'h', errLo: lo, errHi: hi, errColor: '#78a389', errWidth: 0.9, errCap: 1.6 }),
      lineDS([1, 1], [-0.55, 18.58], refColor, refW)
    ] },
    options: { scales: {
      x: ax(xmin, xmax, [0, 2, 4, 6], { fs: 4.4, tl: 1.5, bc: '#222', tc: '#222', color: '#333' }),
      y: { type: 'linear', display: false, min: -0.55, max: 18.58, reverse: true }
    } },
    plugins: [errPlugin]
  });
}
forest({ l: 183, t: 608.3, r: 250, b: 806.7 }, -0.813, 7.83, uniRow, uniHR, uniLo, uniHi, '#666', 1.5);
forest({ l: 450, t: 608.3, r: 513, b: 806.7 }, -0.9125, 6.9625, multiRow, multiHR, multiLo, multiHi, '#111', 1);
</script></body></html>
